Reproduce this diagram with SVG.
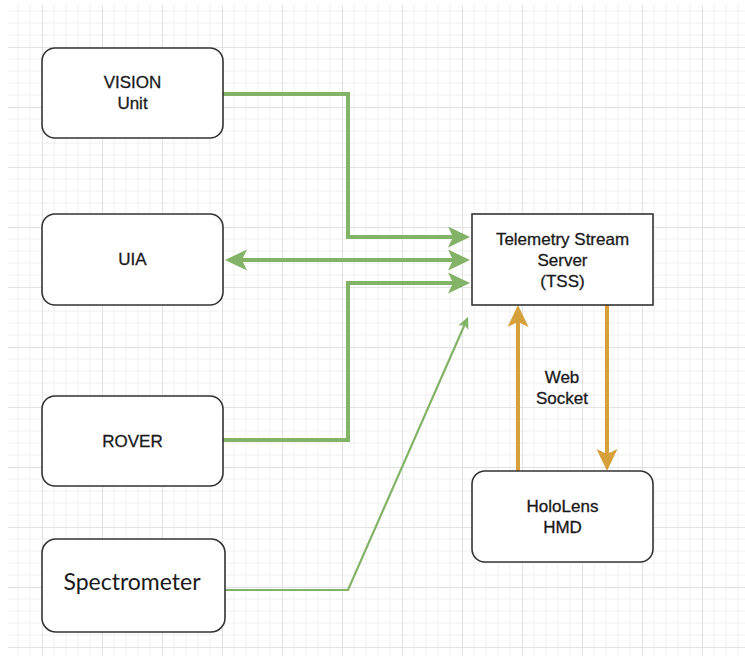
<svg xmlns="http://www.w3.org/2000/svg" width="745" height="658" viewBox="0 0 745 658">
<style>
.box{fill:#ffffff;stroke:#333333;stroke-width:1.6}
.lbl{font-family:"Liberation Sans",Arial,sans-serif;font-size:17px;fill:#1a1a1a;stroke:#1a1a1a;stroke-width:0.3;text-anchor:middle}
.g{fill:none;stroke:#82b366;stroke-width:4}
.gt{fill:none;stroke:#82b366;stroke-width:2.2}
.o{fill:none;stroke:#d6a03a;stroke-width:4}
</style>
<defs>
<pattern id="grid" patternUnits="userSpaceOnUse" x="42" y="47" width="60" height="60">
<path d="M12,0V60M24,0V60M36,0V60M48,0V60M0,12H60M0,24H60M0,36H60M0,48H60" stroke="#f0f0f0" stroke-width="1" fill="none"/>
<path d="M0.5,0V60M0,0.5H60" stroke="#e2e2e2" stroke-width="1" fill="none"/>
</pattern>
<marker id="ag" markerUnits="userSpaceOnUse" markerWidth="24" markerHeight="22" refX="5" refY="10.5" orient="auto-start-reverse">
<path d="M0,0 L22,10.5 L0,21 L5,10.5 Z" fill="#82b366"/>
</marker>
<marker id="agt" markerUnits="userSpaceOnUse" markerWidth="14" markerHeight="12" refX="3" refY="5.5" orient="auto">
<path d="M0,0 L12,5.5 L0,11 L3,5.5 Z" fill="#82b366"/>
</marker>
<marker id="ao" markerUnits="userSpaceOnUse" markerWidth="24" markerHeight="22" refX="5" refY="10.5" orient="auto">
<path d="M0,0 L22,10.5 L0,21 L5,10.5 Z" fill="#d6a03a"/>
</marker>
</defs>
<rect x="0" y="0" width="745" height="658" fill="#ffffff"/>
<rect x="8" y="5" width="737" height="650" fill="url(#grid)"/>
<g id="connectors">
<path class="g" d="M223,94 H348 V237 H453" marker-end="url(#ag)"/>
<path class="g" d="M242,260 H453" marker-start="url(#ag)" marker-end="url(#ag)"/>
<path class="g" d="M223,440 H348 V283 H453" marker-end="url(#ag)"/>
<path class="gt" d="M225,590 H348 L464.5,325" marker-end="url(#agt)"/>
<path class="o" d="M518,471 V322" marker-end="url(#ao)"/>
<path class="o" d="M607,305 V454" marker-end="url(#ao)"/>
<text class="lbl" x="562" y="383">Web</text>
<text class="lbl" x="562" y="404">Socket</text>
</g>
<g id="vision">
<rect class="box" x="42" y="48" width="181" height="90" rx="13"/>
<text class="lbl" x="132.5" y="88">VISION</text>
<text class="lbl" x="132.5" y="109">Unit</text>
</g>
<g id="uia">
<rect class="box" x="42" y="214" width="181" height="91" rx="13"/>
<text class="lbl" x="132.5" y="265">UIA</text>
</g>
<g id="rover">
<rect class="box" x="42" y="396" width="181" height="90" rx="13"/>
<text class="lbl" x="132.5" y="447">ROVER</text>
</g>
<g id="spectrometer">
<rect class="box" x="42" y="539" width="183" height="93" rx="14"/>
<text x="132" y="590" font-family="Lato,'Open Sans',sans-serif" font-size="23px" fill="#1a1a1a" text-anchor="middle">Spectrometer</text>
</g>
<g id="tss">
<rect class="box" x="472" y="214" width="181" height="91"/>
<text class="lbl" x="562.5" y="245">Telemetry Stream</text>
<text class="lbl" x="562.5" y="266">Server</text>
<text class="lbl" x="562.5" y="287">(TSS)</text>
</g>
<g id="hololens">
<rect class="box" x="472" y="471" width="181" height="91" rx="13"/>
<text class="lbl" x="562.5" y="512">HoloLens</text>
<text class="lbl" x="562.5" y="533">HMD</text>
</g>
</svg>
